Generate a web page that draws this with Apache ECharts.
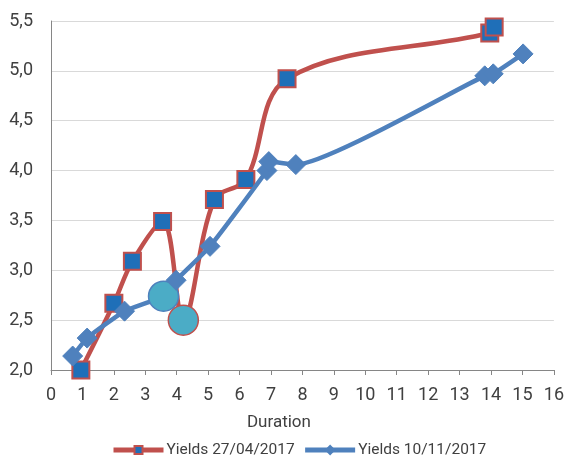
<!DOCTYPE html>
<html>
<head>
<meta charset="utf-8">
<script src="https://cdn.jsdelivr.net/npm/echarts@6/dist/echarts.min.js"></script>
<style>
  html, body { margin: 0; padding: 0; background: #fff; }
  #chart { width: 567px; height: 462px; }
</style>
</head>
<body>
<div id="chart"></div>
<script>
// data
const seriesNames = ['Yields 27/04/2017', 'Yields 10/11/2017'];
const aprilDuration = [0.95, 2.0, 2.59, 3.55, 4.21, 5.2, 6.2, 7.51, 13.96, 14.1];
const aprilYield = [2.0, 2.67, 3.09, 3.49, 2.5, 3.71, 3.91, 4.92, 5.38, 5.44];
const aprilHighlight = 4;
const novDuration = [0.69, 1.15, 2.34, 3.58, 3.98, 5.06, 6.87, 6.93, 7.79, 13.8, 14.07, 15.02];
const novYield = [2.14, 2.32, 2.59, 2.74, 2.9, 3.24, 4.0, 4.09, 4.06, 4.95, 4.97, 5.17];
const novHighlight = 3;

const FONT = "Roboto, 'Liberation Sans Narrow', sans-serif";
const RED = '#C0504D';
const BLUE = '#4F81BD';
const TEAL = '#4BACC6';

// builds points; the highlighted one becomes a big teal circle
function buildPoints(xs, ys, hi, border) {
    return xs.map(function (x, i) {
        let p = { value: [x, ys[i]] };
        if (i === hi) {
            p.symbol = 'circle';
            p.symbolSize = 30;
            p.itemStyle = { color: TEAL, borderColor: border, borderWidth: 1.5 };
        }
        return p;
    });
}

let chart = echarts.init(document.getElementById('chart'));
let option = {
    animation: false,
    grid: { left: 51, right: 11, top: 21, bottom: 92 },
    textStyle: { fontFamily: FONT },
    xAxis: {
        type: 'value',
        min: 0, max: 16, interval: 1,
        name: 'Duration',
        nameLocation: 'middle',
        nameGap: 44,
        nameTextStyle: { fontFamily: FONT, fontSize: 17, color: '#404040', padding: [0, 47, 0, 0] },
        axisLine: { show: true, lineStyle: { color: '#868686', width: 1 } },
        axisTick: { show: true, length: 5, lineStyle: { color: '#868686' } },
        axisLabel: { fontFamily: FONT, fontSize: 18, color: '#404040', margin: 16 },
        splitLine: { show: false }
    },
    yAxis: {
        type: 'value',
        min: 2, max: 5.5, interval: 0.5,
        axisLine: { show: true, lineStyle: { color: '#868686', width: 1 } },
        axisTick: { show: false },
        axisLabel: {
            fontFamily: FONT, fontSize: 18, color: '#404040', margin: 18,
            formatter: function (v) { return v.toFixed(1).replace('.', ','); }
        },
        splitLine: { show: true, lineStyle: { color: '#D9D9D9', width: 1 } }
    },
    legend: {
        bottom: -1,
        left: 106,
        itemWidth: 50,
        itemHeight: 10,
        itemGap: 8,
        lineStyle: { width: 5 },
        textStyle: { fontFamily: FONT, fontSize: 15.5, color: '#404040', padding: [0, 0, 0, -2] },
        data: seriesNames
    },
    series: [
        {
            name: seriesNames[0],
            type: 'line',
            smooth: 0.35,
            symbol: 'rect',
            symbolSize: 17,
            lineStyle: { color: RED, width: 4.5 },
            itemStyle: { color: '#1F6FB8', borderColor: RED, borderWidth: 2 },
            data: buildPoints(aprilDuration, aprilYield, aprilHighlight, RED),
            z: 2
        },
        {
            name: seriesNames[1],
            type: 'line',
            smooth: 0.15,
            symbol: 'diamond',
            symbolSize: 20,
            lineStyle: { color: BLUE, width: 4.5 },
            itemStyle: { color: BLUE, borderColor: BLUE, borderWidth: 1 },
            data: buildPoints(novDuration, novYield, novHighlight, BLUE),
            z: 3
        }
    ]
};
chart.setOption(option);
</script>
</body>
</html>
